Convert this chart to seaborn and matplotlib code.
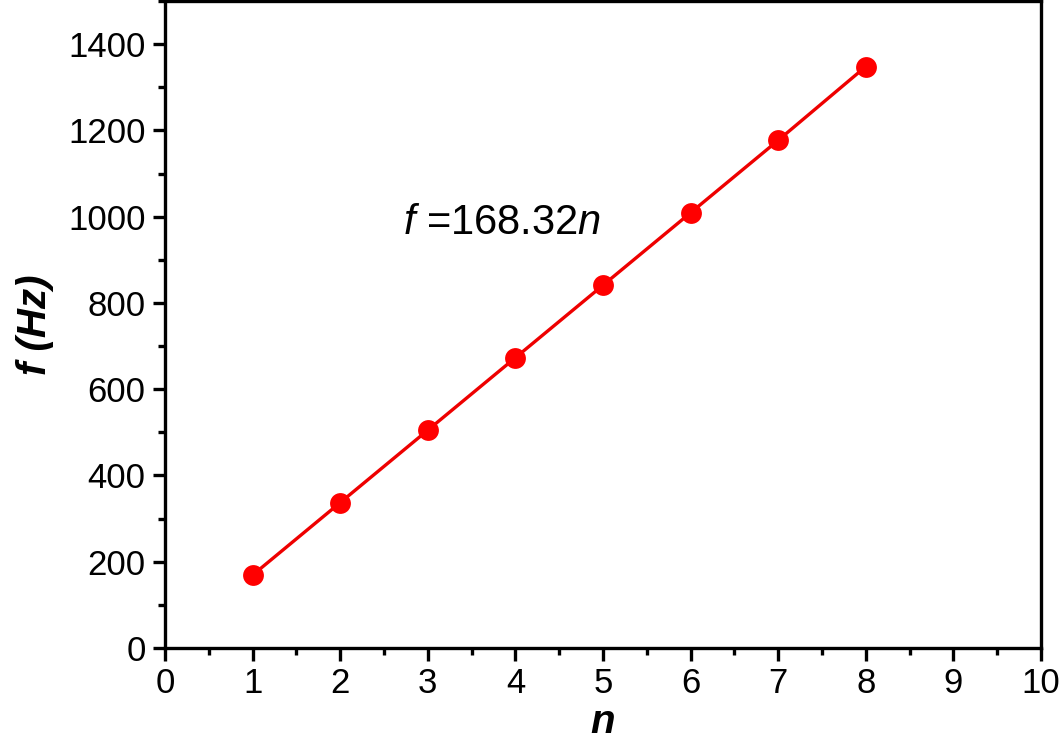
import numpy as np
import pandas as pd
import matplotlib
matplotlib.use("Agg")
import matplotlib.pyplot as plt
from matplotlib.ticker import MultipleLocator
import seaborn as sns

# data
n_values = [1, 2, 3, 4, 5, 6, 7, 8]
f_values = [169, 337, 505, 673, 841, 1009, 1177, 1348]
fit_text = "168.32"

df = pd.DataFrame({"n": n_values, "f": f_values})

sns.set_style("ticks")
plt.rcParams['font.family'] = ['Liberation Sans', 'DejaVu Sans']
plt.rcParams['mathtext.fontset'] = 'custom'
plt.rcParams['mathtext.it'] = 'Liberation Sans:italic'
plt.rcParams['mathtext.rm'] = 'Liberation Sans'
plt.rcParams['text.color'] = 'black'
plt.rcParams['axes.labelcolor'] = 'black'
plt.rcParams['xtick.color'] = 'black'
plt.rcParams['ytick.color'] = 'black'
plt.rcParams['axes.edgecolor'] = 'black'

fig = plt.figure(figsize=(10.59, 7.48), dpi=100)
ax = fig.add_axes([0.1558, 0.1337, 0.8272, 0.865])

sns.lineplot(data=df, x="n", y="f", ax=ax, color="#ee0000", lw=2.4,
             marker="o", markersize=15, markeredgewidth=0, markerfacecolor="#ff0000")

ax.set_xlim(0, 10)
ax.set_ylim(0, 1500)
ax.xaxis.set_major_locator(MultipleLocator(1))
ax.xaxis.set_minor_locator(MultipleLocator(0.5))
ax.yaxis.set_minor_locator(MultipleLocator(100))
ax.set_yticks([0, 200, 400, 600, 800, 1000, 1200, 1400])

for s in ax.spines.values():
    s.set_linewidth(2.4)
    s.set_visible(True)
ax.tick_params(which="major", direction="out", length=9, width=2.4, labelsize=25, pad=5)
ax.tick_params(which="minor", direction="out", length=5, width=2.4)

ax.set_xlabel("n", fontsize=29, fontweight="bold", style="italic", labelpad=2)
ax.set_ylabel("f (Hz)", fontsize=29, fontweight="bold", style="italic", labelpad=10)

ax.text(2.72, 960, r"$f$ =" + fit_text + r"$n$", fontsize=30)

fig.savefig("out.png", dpi=100)
